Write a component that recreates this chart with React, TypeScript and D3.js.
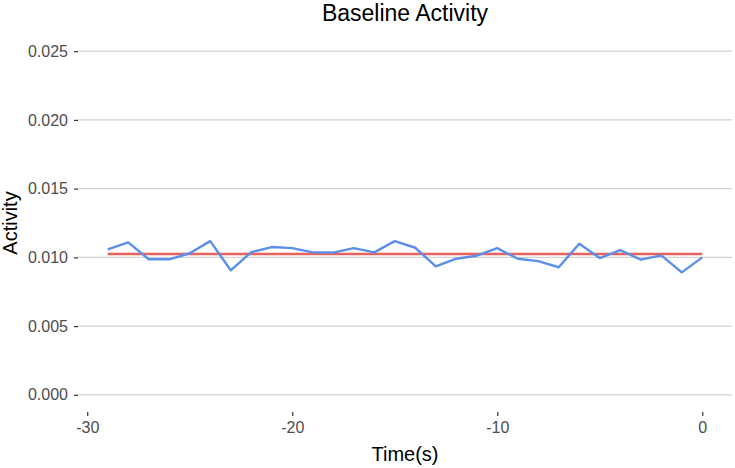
import React, { useEffect, useRef } from "react";
import * as d3 from "d3";

const times = [
  -29, -28, -27, -26, -25, -24, -23, -22, -21, -20, -19, -18, -17, -16, -15,
  -14, -13, -12, -11, -10, -9, -8, -7, -6, -5, -4, -3, -2, -1, 0,
];
const activity = [
  0.01058, 0.01109, 0.00986, 0.00986, 0.0103, 0.01118, 0.00906, 0.01038,
  0.01075, 0.01067, 0.01036, 0.01035, 0.01067, 0.01036, 0.01118, 0.0107,
  0.00935, 0.0099, 0.01012, 0.01067, 0.0099, 0.00973, 0.00928, 0.01099,
  0.00995, 0.01053, 0.00983, 0.01015, 0.00891, 0.01,
];
const baseline = 0.01025;
const yTicks = [0, 0.005, 0.01, 0.015, 0.02, 0.025];
const xTicks = [-30, -20, -10, 0];

function App() {
  const svgElemRef = useRef<SVGSVGElement>(null);

  useEffect(() => {
    const width = 735;
    const height = 468;
    const font = "'Liberation Sans', Arial, sans-serif";
    // panel edges (ggplot-style 5% expansion around the data)
    const left = 78;
    const right = 732;
    const top = 34;
    const bottom = 412;

    const svg = d3
      .select(svgElemRef.current)
      .attr("width", width)
      .attr("height", height);
    svg.selectAll("*").remove();

    const x = d3
      .scaleLinear()
      .domain([-30.45, 1.45])
      .range([left, right]);

    const y = d3
      .scaleLinear()
      .domain([-0.00125, 0.02625])
      .range([bottom, top]);

    // horizontal grid lines
    svg
      .append("g")
      .selectAll("line")
      .data(yTicks)
      .enter()
      .append("line")
      .attr("x1", left)
      .attr("x2", right)
      .attr("y1", (d) => y(d))
      .attr("y2", (d) => y(d))
      .attr("stroke", "#d3d3d3")
      .attr("stroke-width", 1.2);

    // y axis: ticks + labels
    const yAxis = svg
      .append("g")
      .attr("transform", `translate(${left}, 0)`)
      .call(
        d3
          .axisLeft(y)
          .tickValues(yTicks)
          .tickSize(4)
          .tickPadding(6)
          .tickFormat(d3.format(".3f"))
      );
    yAxis.select(".domain").remove();
    yAxis.selectAll("line").attr("stroke", "#333").attr("stroke-width", 1.2);
    yAxis
      .selectAll("text")
      .attr("fill", "#4d4d4d")
      .style("font-family", font)
      .style("font-size", "16px");

    // x axis: ticks + labels (plain hyphen for the minus sign, like R)
    const xAxis = svg
      .append("g")
      .attr("transform", `translate(0, ${bottom})`)
      .call(
        d3
          .axisBottom(x)
          .tickValues(xTicks)
          .tickSize(4)
          .tickPadding(6)
          .tickFormat((d) => String(d))
      );
    xAxis.select(".domain").remove();
    xAxis.selectAll("line").attr("stroke", "#333").attr("stroke-width", 1.2);
    xAxis
      .selectAll("text")
      .attr("fill", "#4d4d4d")
      .style("font-family", font)
      .style("font-size", "16px");

    // mean baseline
    svg
      .append("line")
      .attr("x1", x(times[0]))
      .attr("x2", x(times[times.length - 1]))
      .attr("y1", y(baseline))
      .attr("y2", y(baseline))
      .attr("stroke", "#e8625c")
      .attr("stroke-width", 2.4);

    // activity trace
    const line = d3
      .line<number>()
      .x((d, i) => x(times[i]))
      .y((d) => y(d));

    svg
      .append("path")
      .datum(activity)
      .attr("d", line)
      .attr("fill", "none")
      .attr("stroke", "#5b8fe8")
      .attr("stroke-width", 2.4)
      .attr("stroke-linejoin", "round");

    // title
    svg
      .append("text")
      .attr("text-anchor", "middle")
      .attr("x", (left + right) / 2)
      .attr("y", 21)
      .style("font-family", font)
      .style("font-size", "23px")
      .attr("fill", "#000")
      .text("Baseline Activity");

    // X-axis label
    svg
      .append("text")
      .attr("text-anchor", "middle")
      .attr("x", (left + right) / 2)
      .attr("y", 461)
      .style("font-family", font)
      .style("font-size", "20px")
      .attr("fill", "#000")
      .text("Time(s)");

    // Y-axis label
    svg
      .append("text")
      .attr("text-anchor", "middle")
      .attr("transform", "rotate(-90)")
      .attr("x", -(top + bottom) / 2)
      .attr("y", 17)
      .style("font-family", font)
      .style("font-size", "20px")
      .attr("fill", "#000")
      .text("Activity");
  }, []);

  return (
    <div style={{ position: "absolute", left: 0, top: 0 }}>
      <svg ref={svgElemRef}></svg>
    </div>
  );
}

export default App;
